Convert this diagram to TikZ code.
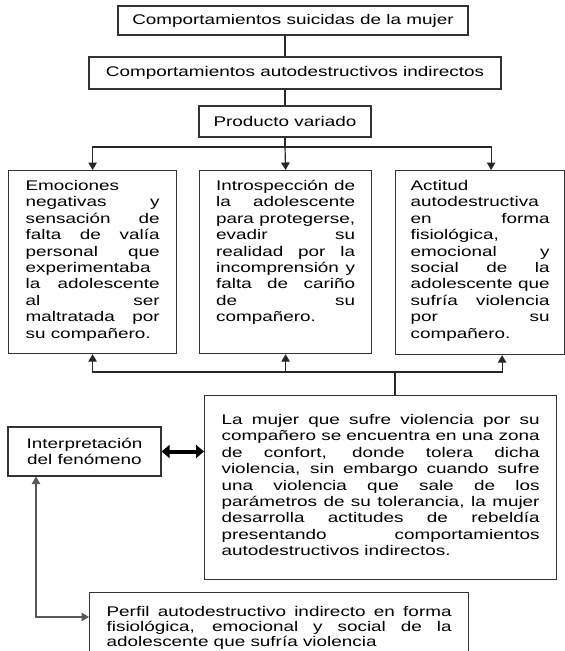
\documentclass[tikz,border=0pt]{standalone}
\usepackage{fontspec}
\setmainfont{Liberation Sans}[FakeStretch=1.35]
\usetikzlibrary{arrows.meta}
\tikzset{>={Triangle[width=8.5pt,length=7.5pt]}}
\newcommand{\textocaja}[3]{\parbox[t][#2][t]{#1}{\strut#3}}

\begin{document}
\begin{tikzpicture}[x=1pt,y=-1pt,
    caja/.style={draw=black!80,line width=1.2pt,font={\fontsize{14}{16.4}\selectfont}},
    titulo/.style={caja,inner sep=0pt,align=center},
    parrafo/.style={caja,anchor=north west,inner xsep=17pt,inner ysep=8.5pt},
    flecha/.style={line width=1.2pt,draw=black!85},
    doble/.style={line width=4pt,arrows={Triangle[width=13pt,length=8pt]-Triangle[width=13pt,length=8pt]}}]
  \useasboundingbox (0,0) rectangle (565,651);
  \clip (0,0) rectangle (565,651);
  \node[titulo,minimum width=350pt,minimum height=29pt] (suicida) at (293,20.5) {Comportamientos suicidas de la mujer};
  \node[titulo,minimum width=412pt,minimum height=32pt] (autodes) at (295,73) {Comportamientos autodestructivos indirectos};
  \node[titulo,minimum width=172pt,minimum height=31pt] (producto) at (285,121.5) {Producto variado};
  \node[parrafo] (emociones) at (8,170) {\textocaja{134pt}{166pt}{Emociones\linebreak negativas y\linebreak sensación de\linebreak falta de valía\linebreak personal que\linebreak experimentaba\linebreak la adolescente\linebreak al ser\linebreak maltratada por\linebreak su compañero.}};
  \node[parrafo,inner xsep=16.5pt] (introspeccion) at (199,170) {\textocaja{139pt}{166pt}{Introspección de\linebreak la adolescente\linebreak para protegerse,\linebreak evadir su\linebreak realidad por la\linebreak incomprensión y\linebreak falta de cariño\linebreak de su\linebreak compañero.}};
  \node[parrafo,inner xsep=15pt] (actitud) at (395,170) {\textocaja{139pt}{167pt}{Actitud\linebreak autodestructiva\linebreak en forma\linebreak fisiológica,\linebreak emocional y\linebreak social de la\linebreak adolescente que\linebreak sufría violencia\linebreak por su\linebreak compañero.}};
  \node[parrafo,inner ysep=17.5pt] (mujer) at (204,395) {\textocaja{318pt}{149pt}{La mujer que sufre violencia por su\linebreak compañero se encuentra en una zona\linebreak de confort, donde tolera dicha\linebreak violencia, sin embargo cuando sufre\linebreak una violencia que sale de los\linebreak parámetros de su tolerancia, la mujer\linebreak desarrolla actitudes de rebeldía\linebreak presentando comportamientos\linebreak autodestructivos indirectos.}};
  \node[titulo,minimum width=153pt,minimum height=49pt] (interpretacion) at (84.5,451.5) {Interpretación\\del fenómeno};
  \node[parrafo,inner ysep=13pt,font={\fontsize{14}{15}\selectfont}] (perfil) at (89,592) {\textocaja{345pt}{60pt}{Perfil autodestructivo indirecto en forma\linebreak fisiológica, emocional y social de la\linebreak adolescente que sufría violencia}};
  \coordinate (reparto) at (285,147);
  \coordinate (union) at (395,372);
  \coordinate (codo) at (36,617);
  \draw[flecha] (suicida.south -| producto) -- (autodes.north -| producto);
  \draw[flecha] (autodes.south -| producto) -- (producto);
  \draw[flecha] (producto) -- (reparto);
  \draw[flecha,->] (reparto) -| (emociones.north);
  \draw[flecha,->] (reparto) -- (introspeccion.north);
  \draw[flecha,->] (reparto) -| ([xshift=11pt]actitud.north);
  \draw[flecha] (mujer.north -| union) -- (union);
  \draw[flecha,->] (union) -| (emociones.south);
  \draw[flecha,->] (union) -| (introspeccion.south);
  \draw[flecha,->] (union) -| ([xshift=22pt]actitud.south);
  \draw[doble] (interpretacion.east) -- (interpretacion.east -| mujer.west);
  \draw[flecha,draw=black!65,<->] (interpretacion.south -| codo) |- (perfil.west |- codo);
\end{tikzpicture}
\end{document}
